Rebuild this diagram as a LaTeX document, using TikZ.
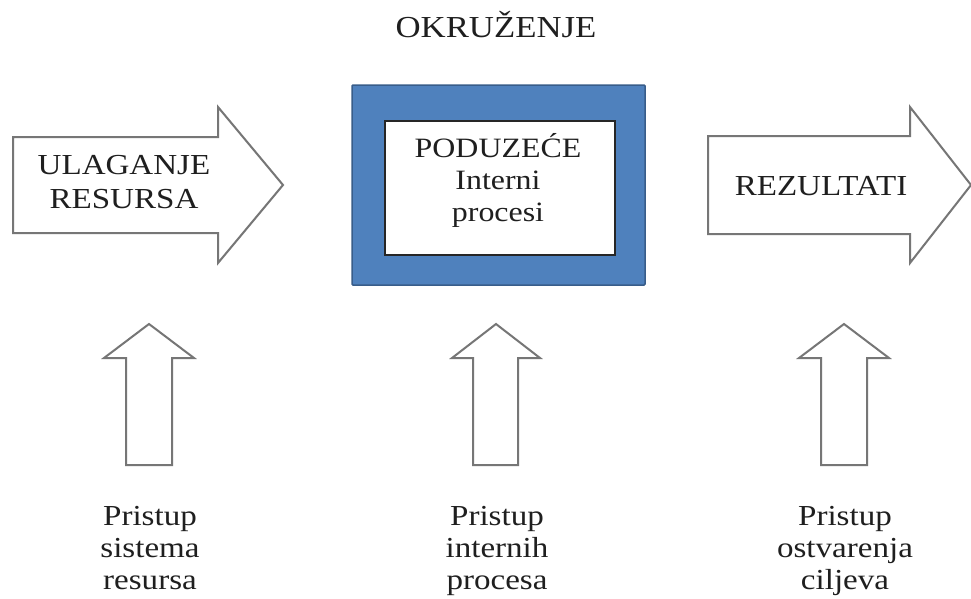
\documentclass[tikz,border=0pt]{standalone}
\usepackage{fontspec}
\setmainfont[FakeStretch=1.14]{Liberation Serif}
\definecolor{boxblue}{HTML}{4F81BD}
\definecolor{boxedge}{HTML}{385D8A}
\definecolor{arrowgray}{HTML}{767676}
\begin{document}
\begin{tikzpicture}[x=1pt,y=-1pt,
  bigarrow/.style={draw=arrowgray,line width=2pt,fill=white,line join=miter},
  uparrow/.style={draw=arrowgray,line width=2pt,fill=white,line join=miter},
  lbl/.style={font=\fontsize{29}{34}\selectfont,align=center,inner sep=0pt,anchor=base,text=black!88},
  blbl/.style={font=\fontsize{29}{32}\selectfont,align=center,inner sep=0pt,anchor=base,text=black!88}]
\useasboundingbox (0,0) rectangle (971,598);
\fill[white] (0,0) rectangle (971,598);
% title
\node[lbl,font=\fontsize{30.5}{34}\selectfont] (env) at (496,37) {OKRUŽENJE};
% left arrow
\draw[bigarrow] (13,137) -- (218,137) -- (218,107) -- (283,185) -- (218,263) -- (218,233) -- (13,233) -- cycle;
\node[lbl] (input) at (124,208) {ULAGANJE\\RESURSA};
% right arrow
\draw[bigarrow] (708,136) -- (910,136) -- (910,107) -- (971,185) -- (910,263) -- (910,234) -- (708,234) -- cycle;
\node[lbl] (result) at (821,195) {REZULTATI};
% company box
\draw[fill=boxblue,draw=boxedge,line width=1.5pt,rounded corners=1pt] (352,85) rectangle (645,285);
\draw[fill=white,draw=black!85,line width=1.2pt] (385,121) rectangle (615,255);
\node[lbl,font=\fontsize{28}{32}\selectfont] (firm) at (498,221) {PODUZEĆE\\Interni\\procesi};
% up arrows
\draw[uparrow] (126,465) -- (126,358) -- (104,358) -- (149,324) -- (194,358) -- (172,358) -- (172,465) -- cycle;
\draw[uparrow] (473,465) -- (473,358) -- (452,358) -- (496,324) -- (540,358) -- (518,358) -- (518,465) -- cycle;
\draw[uparrow] (821,465) -- (821,358) -- (799,358) -- (844,324) -- (889,358) -- (867,358) -- (867,465) -- cycle;
% bottom labels
\node[blbl] (a1) at (150,589) {Pristup\\sistema\\resursa};
\node[blbl] (a2) at (497,589) {Pristup\\internih\\procesa};
\node[blbl] (a3) at (845,589) {Pristup\\ostvarenja\\ciljeva};
\end{tikzpicture}
\end{document}
